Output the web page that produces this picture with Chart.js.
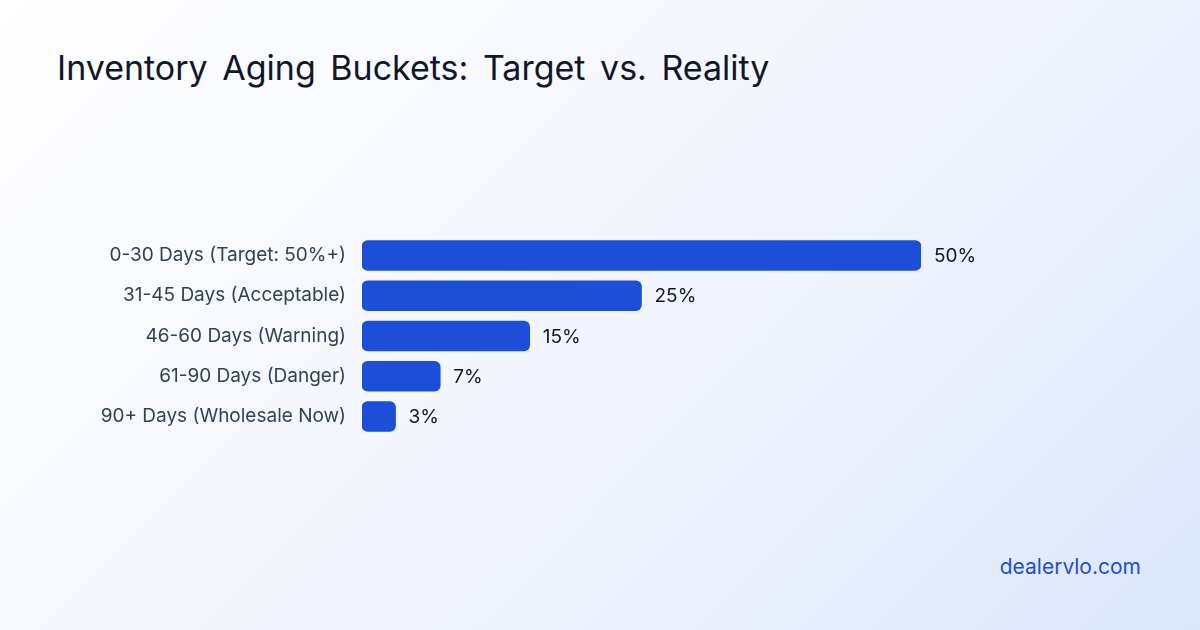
<!DOCTYPE html>
<html>
<head>
<meta charset="utf-8">
<script src="https://cdn.jsdelivr.net/npm/chart.js"></script>
<style>
  html, body { margin: 0; padding: 0; }
  body { width: 1200px; height: 630px; position: relative; overflow: hidden;
    background: linear-gradient(135deg, #ffffff 0%, #f1f4fd 55%, #dce7fb 100%);
    font-family: Inter, 'Noto Sans', sans-serif; }
  h1 { position: absolute; left: 57px; top: 47px; margin: 0; font-size: 34px; font-weight: 400; color: #0f172a; word-spacing: 5px; }
  .brand { position: absolute; right: 59px; top: 554px; font-size: 21px; color: #1d4ed8; }
  #c { position: absolute; left: 0; top: 216px; }
</style>
</head>
<body>
<h1>Inventory Aging Buckets: Target vs. Reality</h1>
<canvas id="c" width="1200" height="240"></canvas>
<div class="brand">dealervlo.com</div>
<script>
const buckets = ['0-30 Days (Target: 50%+)', '31-45 Days (Acceptable)', '46-60 Days (Warning)', '61-90 Days (Danger)', '90+ Days (Wholesale Now)'];
const shares = [50, 25, 15, 7, 3];

// draws the "50%" style labels at the end of each bar
const valueLabels = {
  id: 'valueLabels',
  afterDatasetsDraw(chart) {
    const ctx = chart.ctx;
    ctx.save();
    ctx.font = '19px Inter, sans-serif';
    ctx.fillStyle = '#0f172a';
    ctx.textBaseline = 'middle';
    chart.getDatasetMeta(0).data.forEach((bar, i) => {
      ctx.fillText(shares[i] + '%', bar.x + 13, bar.y + 1);
    });
    ctx.restore();
  }
};

new Chart(document.getElementById('c'), {
  type: 'bar',
  data: {
    labels: buckets,
    datasets: [{ data: shares, backgroundColor: '#1d4ed8', borderRadius: 6, borderSkipped: false, barThickness: 30 }]
  },
  options: {
    indexAxis: 'y',
    responsive: false,
    animation: false,
    layout: { padding: { right: 279, top: 0, bottom: 0 } },
    plugins: { legend: { display: false }, tooltip: { enabled: false } },
    scales: {
      x: { display: false, min: 0, max: 50 },
      y: {
        grid: { display: false }, border: { display: false },
        afterFit(s) { s.width = 362; },
        ticks: { color: '#334155', padding: 8, font: { size: 19, family: 'Inter, sans-serif' } }
      }
    }
  },
  plugins: [valueLabels]
});
</script>
</body>
</html>
